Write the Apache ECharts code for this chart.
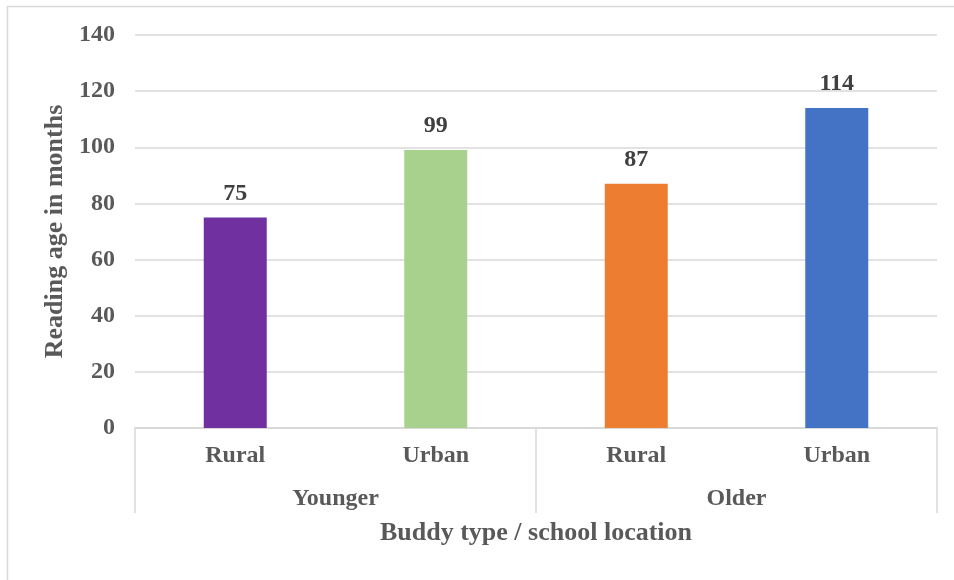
<!DOCTYPE html>
<html>
<head>
<meta charset="utf-8">
<script src="https://cdn.jsdelivr.net/npm/echarts@6/dist/echarts.min.js"></script>
<style>
  html, body { margin: 0; padding: 0; background: #fff; }
  #chart { width: 954px; height: 580px; }
</style>
</head>
<body>
<div id="chart"></div>
<script>
// Reading age by buddy type and school location
const locations = ['Rural', 'Urban', 'Rural', 'Urban'];
const buddyTypes = ['Younger', 'Older'];
const readingAge = [75, 99, 87, 114];
const barColors = ['#7030A0', '#A9D18E', '#ED7D31', '#4472C4'];
const yTicks = { min: 0, max: 140, interval: 20 };

const FONT = '"Liberation Serif", "Times New Roman", serif';
const GREY = '#595959';
const LINE = '#d9d9d9';

const chart = echarts.init(document.getElementById('chart'), null, { renderer: 'canvas' });

chart.setOption({
  animation: false,
  backgroundColor: '#ffffff',
  graphic: [{
    type: 'rect',
    shape: { x: 7.5, y: 6.5, width: 1000, height: 1000 },
    style: { fill: 'none', stroke: LINE, lineWidth: 1.5 },
    silent: true
  }],
  grid: { left: 135, right: 17, top: 35, bottom: 152, containLabel: false },
  xAxis: [
    {
      type: 'category',
      data: locations,
      position: 'bottom',
      axisLine: { show: true, lineStyle: { color: LINE, width: 1.5 } },
      axisTick: { show: false },
      axisLabel: { color: GREY, fontFamily: FONT, fontWeight: 'bold', fontSize: 24, margin: 16 },
      splitLine: { show: false }
    },
    {
      type: 'category',
      data: buddyTypes,
      position: 'bottom',
      offset: 0,
      axisLine: { show: true, lineStyle: { color: LINE, width: 1.5 } },
      axisTick: { show: true, length: 85, alignWithLabel: false, lineStyle: { color: LINE, width: 1.5 } },
      axisLabel: { color: GREY, fontFamily: FONT, fontWeight: 'bold', fontSize: 24, margin: 59 },
      name: 'Buddy type / school location',
      nameLocation: 'middle',
      nameGap: 92,
      nameTextStyle: { color: GREY, fontFamily: FONT, fontWeight: 'bold', fontSize: 26 },
      splitLine: { show: false }
    }
  ],
  yAxis: {
    type: 'value',
    min: yTicks.min,
    max: yTicks.max,
    interval: yTicks.interval,
    axisLine: { show: false },
    axisTick: { show: false },
    axisLabel: { color: GREY, fontFamily: FONT, fontWeight: 'bold', fontSize: 24, margin: 20 },
    splitLine: { lineStyle: { color: LINE, width: 1.5 } },
    name: 'Reading age in months',
    nameLocation: 'middle',
    nameGap: 64,
    nameTextStyle: { color: GREY, fontFamily: FONT, fontWeight: 'bold', fontSize: 26 }
  },
  series: [{
    type: 'bar',
    xAxisIndex: 0,
    barWidth: 63,
    data: readingAge.map((v, i) => ({ value: v, itemStyle: { color: barColors[i] } })),
    label: {
      show: true,
      position: 'top',
      distance: 12,
      color: '#404040',
      fontFamily: FONT,
      fontWeight: 'bold',
      fontSize: 24
    }
  }]
});
</script>
</body>
</html>
